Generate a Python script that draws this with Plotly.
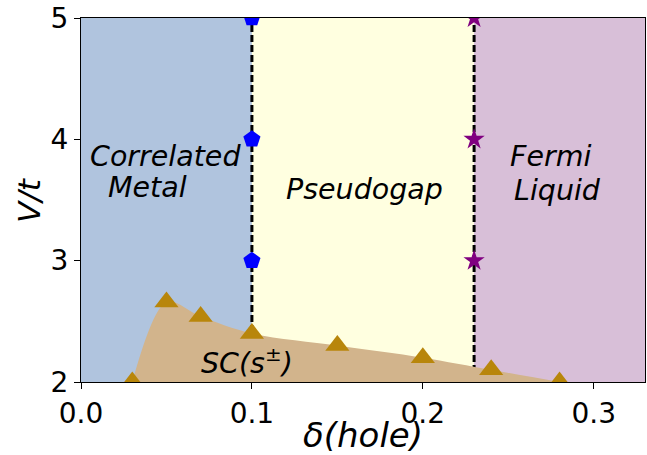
import plotly.graph_objects as go

# Phase boundaries (hole doping) and the regions they separate
region_edges = [0.0, 0.10, 0.23, 0.33]
region_colors = ["#B0C4DE", "#FFFFE0", "#D8BFD8"]

# Transition points along the boundaries
cm_pg_delta = [0.10, 0.10, 0.10]
cm_pg_v = [3.0, 4.0, 5.0]
pg_fl_delta = [0.23, 0.23, 0.23]
pg_fl_v = [3.0, 4.0, 5.0]

# Superconducting dome (s±)
sc_delta = [0.03, 0.05, 0.07, 0.10, 0.15, 0.20, 0.24, 0.28]
sc_v = [2.0, 2.66, 2.54, 2.40, 2.30, 2.20, 2.10, 2.00]

x_ticks = [0.0, 0.1, 0.2, 0.3]
y_ticks = [2, 3, 4, 5]

FONT = "DejaVu Sans"

fig = go.Figure()

shapes = []
for i, c in enumerate(region_colors):
    shapes.append(dict(type="rect", xref="x", yref="paper",
                       x0=region_edges[i], x1=region_edges[i + 1], y0=0, y1=1,
                       fillcolor=c, line=dict(width=0), layer="below"))
for xb in region_edges[1:3]:
    shapes.append(dict(type="line", xref="x", yref="paper", x0=xb, x1=xb, y0=0, y1=1,
                       line=dict(color="black", width=3, dash="7px,3px"), layer="below"))

# SC region fill
fig.add_trace(go.Scatter(x=sc_delta, y=sc_v, mode="lines",
                         line=dict(width=0, shape="spline", smoothing=0.9),
                         fill="tozeroy", fillcolor="#D2B48C", hoverinfo="skip",
                         showlegend=False))
fig.add_trace(go.Scatter(x=sc_delta, y=sc_v, mode="markers",
                         marker=dict(symbol="triangle-up", size=21, color="#B8860B"),
                         showlegend=False))
fig.add_trace(go.Scatter(x=cm_pg_delta, y=cm_pg_v, mode="markers",
                         marker=dict(symbol="pentagon", size=18, color="#0000FF"),
                         showlegend=False))
fig.add_trace(go.Scatter(x=pg_fl_delta, y=pg_fl_v, mode="markers",
                         marker=dict(symbol="star", size=16, color="#800080"),
                         showlegend=False))

labels = [
    ("<i>Correlated</i>", 0.0496, 3.86),
    ("<i>Metal</i>", 0.039, 3.60),
    ("<i>Pseudogap</i>", 0.1658, 3.59),
    ("<i>Fermi</i>", 0.2745, 3.86),
    ("<i>Liquid</i>", 0.2786, 3.58),
    ("<i>SC(s<sup>±</sup>)</i>", 0.0972, 2.17),
]
annotations = [dict(text=t, x=x, y=y, xref="x", yref="y", showarrow=False,
                    xanchor="center", yanchor="middle",
                    font=dict(family=FONT, size=28.5, color="black"))
               for t, x, y in labels]

# Axis titles, placed relative to the plotting area
annotations.append(dict(text="<i>δ(hole)</i>", xref="paper", yref="paper", x=0.5, y=0,
                        xanchor="center", yanchor="middle", yshift=-53, height=32,
                        showarrow=False, font=dict(family=FONT, size=34, color="black")))
annotations.append(dict(text="<i>V/t</i>", xref="paper", yref="paper", x=0, y=0.5,
                        xanchor="center", yanchor="middle", xshift=-52, textangle=-90,
                        showarrow=False, font=dict(family=FONT, size=31, color="black")))

axis_common = dict(showgrid=False, zeroline=False, showline=True, mirror=True,
                   linecolor="black", linewidth=1, ticks="outside", ticklen=6,
                   tickwidth=1, tickcolor="black", automargin=False,
                   tickfont=dict(family=FONT, size=28, color="black"))

fig.update_layout(
    width=647, height=455,
    margin=dict(l=81, r=2, t=18, b=73),
    paper_bgcolor="white", plot_bgcolor="white",
    shapes=shapes, annotations=annotations,
    xaxis=dict(range=[0, 0.33], tickvals=x_ticks,
               ticktext=[f"{v:.1f}" for v in x_ticks], **axis_common),
    yaxis=dict(range=[2, 5], tickvals=y_ticks, **axis_common),
)

fig.write_html("out.html")
